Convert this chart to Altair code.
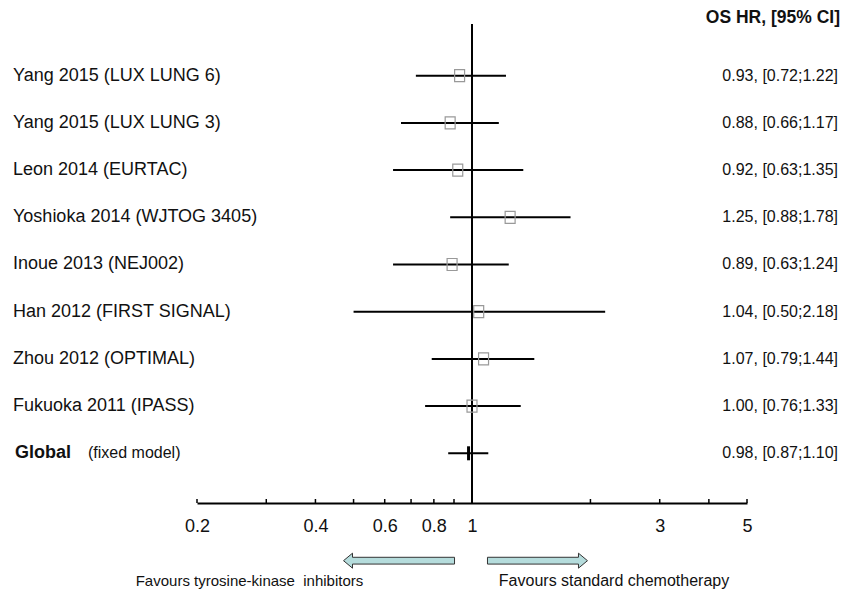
import altair as alt
import pandas as pd

# ---------------- data ----------------
studies = ["Yang 2015 (LUX LUNG 6)", "Yang 2015 (LUX LUNG 3)", "Leon 2014 (EURTAC)",
           "Yoshioka 2014 (WJTOG 3405)", "Inoue 2013 (NEJ002)", "Han 2012 (FIRST SIGNAL)",
           "Zhou 2012 (OPTIMAL)", "Fukuoka 2011 (IPASS)"]
hr = [0.93, 0.88, 0.92, 1.25, 0.89, 1.04, 1.07, 1.00]
ci_low = [0.72, 0.66, 0.63, 0.88, 0.63, 0.50, 0.79, 0.76]
ci_high = [1.22, 1.17, 1.35, 1.78, 1.24, 2.18, 1.44, 1.33]

global_label = "Global"
global_note = "(fixed model)"
global_hr = [0.98]
global_low = [0.87]
global_high = [1.10]

header = "OS HR, [95% CI]"
tick_values = [0.2, 0.3, 0.4, 0.5, 0.6, 0.7, 0.8, 0.9, 1, 2, 3, 4, 5]
label_values = [0.2, 0.4, 0.6, 0.8, 1, 3, 5]
favour_left = "Favours tyrosine-kinase\u00a0 inhibitors"
favour_right = "Favours standard chemotherapy"

# ---------------- layout ----------------
W, H = 550, 479
FONT = "Liberation Sans"
TXT = "#111111"

xs = alt.Scale(type="log", domain=[0.2, 5], nice=False)
ys = alt.Scale(domain=[-1.095, 9.053], reverse=True, nice=False, zero=False)
AX = alt.Axis(
    orient="bottom", values=label_values, labelExpr="format(datum.value, '~g')",
    ticks=False, grid=False, domain=True, domainColor="black", domainWidth=2,
    labelFont=FONT, labelFontSize=18, labelColor=TXT, labelPadding=14, title=None,
    labelFlush=False, labelOverlap=False)

rows = list(range(len(studies)))
df = pd.DataFrame({
    "study": studies, "hr": hr, "lo": ci_low, "hi": ci_high, "row": rows,
    "txt": [f"{h:.2f}, [{l:.2f};{u:.2f}]" for h, l, u in zip(hr, ci_low, ci_high)],
})
gdf = pd.DataFrame({
    "hr": global_hr, "lo": global_low, "hi": global_high, "row": [len(studies)],
    "label": [global_label], "note": [global_note],
    "txt": [f"{global_hr[0]:.2f}, [{global_low[0]:.2f};{global_high[0]:.2f}]"],
})

X = lambda f: alt.X(f, type="quantitative", scale=xs, axis=AX)
Y = alt.Y("row:Q", scale=ys, axis=None)

# vertical reference line
ref = alt.Chart(pd.DataFrame({"v": [1]})).mark_rule(color="black", strokeWidth=2).encode(x=X("v"))

ticks = alt.Chart(pd.DataFrame({"t": tick_values})).mark_rule(color="black", strokeWidth=1.5).encode(
    x=X("t"), y=alt.value(H - 4), y2=alt.value(H)
)

ci = alt.Chart(df).mark_rule(color="black", strokeWidth=2).encode(x=X("lo"), x2="hi", y=Y)
square_path = "M -0.83 -1 L 0.83 -1 L 0.83 1 L -0.83 1 Z"
squares = alt.Chart(df).mark_point(shape=square_path, size=144, filled=False,
                                   stroke="#999999", strokeWidth=1.2, opacity=1).encode(x=X("hr"), y=Y)

gci = alt.Chart(gdf).mark_rule(color="black", strokeWidth=2).encode(x=X("lo"), x2="hi", y=Y)
gtick = alt.Chart(gdf).mark_tick(orient="vertical", thickness=3, size=14, color="black", opacity=1).encode(x=X("hr"), y=Y)

labels = alt.Chart(df).mark_text(align="left", baseline="middle", font=FONT, fontSize=18, color=TXT).encode(
    x=alt.value(-184), y=Y, text="study:N")
glabel = alt.Chart(gdf).mark_text(align="left", baseline="middle", font=FONT, fontSize=18,
                                  fontWeight="bold", color=TXT).encode(x=alt.value(-182), y=Y, text="label:N")
gnote = alt.Chart(gdf).mark_text(align="left", baseline="middle", font=FONT, fontSize=16, color=TXT).encode(
    x=alt.value(-109), y=Y, text="note:N")

values = alt.Chart(df).mark_text(align="right", baseline="middle", font=FONT, fontSize=16, color=TXT).encode(
    x=alt.value(641), y=Y, text="txt:N")
gvalues = alt.Chart(gdf).mark_text(align="right", baseline="middle", font=FONT, fontSize=16, color=TXT).encode(
    x=alt.value(641), y=Y, text="txt:N")

head = alt.Chart(pd.DataFrame({"h": [header]})).mark_text(
    align="right", baseline="middle", font=FONT, fontSize=17.5, fontWeight="bold", color=TXT).encode(
    x=alt.value(643), y=alt.value(-6), text="h:N")

# direction arrows
left_arrow = "M -1 0 L -0.838 -0.135 L -0.838 -0.061 L 1 -0.061 L 1 0.061 L -0.838 0.061 L -0.838 0.135 Z"
right_arrow = "M 1 0 L 0.82 -0.15 L 0.82 -0.068 L -1 -0.068 L -1 0.068 L 0.82 0.068 L 0.82 0.15 Z"
arrow_row = 10.275
la = alt.Chart(pd.DataFrame({"c": [0.6524], "row": [arrow_row]})).mark_point(
    shape=left_arrow, size=111 ** 2, filled=True, fill="#b5dcdc", stroke="#333333",
    strokeWidth=1, opacity=1).encode(x=X("c"), y=Y)
ra = alt.Chart(pd.DataFrame({"c": [1.467], "row": [arrow_row]})).mark_point(
    shape=right_arrow, size=100 ** 2, filled=True, fill="#b5dcdc", stroke="#333333",
    strokeWidth=1, opacity=1).encode(x=X("c"), y=Y)

fl = alt.Chart(pd.DataFrame({"t": [favour_left]})).mark_text(
    align="center", baseline="middle", font=FONT, fontSize=15, color=TXT).encode(
    x=alt.value(52.5), y=alt.value(557), text="t:N")
fr = alt.Chart(pd.DataFrame({"t": [favour_right]})).mark_text(
    align="center", baseline="middle", font=FONT, fontSize=16, color=TXT).encode(
    x=alt.value(417), y=alt.value(557), text="t:N")

chart = alt.layer(ref, ticks, ci, squares, gci, gtick, labels, glabel, gnote, values, gvalues,
                  head, la, ra, fl, fr).properties(
    width=W, height=H,
    autosize=alt.AutoSizeParams(type="none"),
    padding={"left": 189, "top": 16, "right": 102, "bottom": 86},
).configure_view(stroke=None)

chart.save("out.html", embed_options={"renderer": "svg", "actions": False})
